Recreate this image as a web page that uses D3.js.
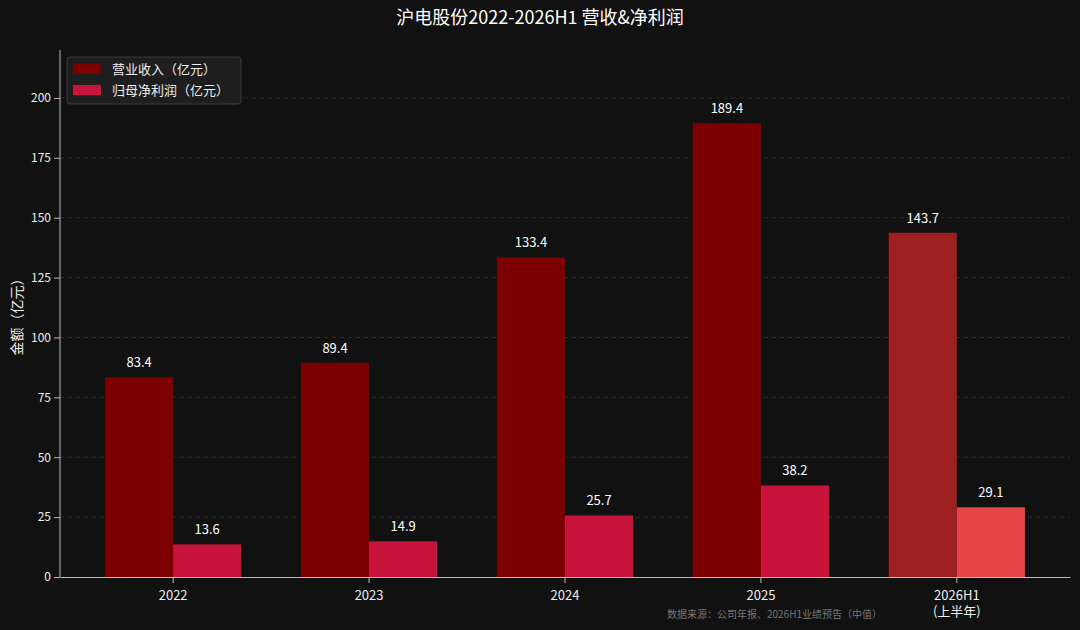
<!DOCTYPE html>
<html><head><meta charset="utf-8">
<script src="https://cdn.jsdelivr.net/npm/d3@7"></script>
<style>body{margin:0;background:#111;}svg{display:block;font-family:"Noto Sans CJK SC","Noto Sans",sans-serif;}</style>
</head><body>
<svg id="c" width="1080" height="630"></svg>
<script>
var categories = ["2022", "2023", "2024", "2025", "2026H1"];
var revenue = [83.4, 89.4, 133.4, 189.4, 143.7];
var profit = [13.6, 14.9, 25.7, 38.2, 29.1];
var yTicks = [0, 25, 50, 75, 100, 125, 150, 175, 200];

var svg = d3.select("#c");
var mLeft = 60, mRight = 1070, mTop = 50, mBottom = 577;
var x = d3.scaleBand().domain(categories).range([mLeft, mRight]).paddingInner(0.305).paddingOuter(0.23);
var y = d3.scaleLinear().domain([0, 220]).range([mBottom, mTop]);
var bw = x.bandwidth() / 2;

svg.append("text").attr("x", 540).attr("y", 24).attr("text-anchor", "middle")
  .attr("fill", "#fff").attr("font-size", 18).text("沪电股份2022-2026H1 营收&净利润");

// grid
svg.append("g").selectAll("line").data(yTicks.slice(1)).enter().append("line")
  .attr("x1", mLeft).attr("x2", mRight).attr("y1", function(d){return y(d);}).attr("y2", function(d){return y(d);})
  .attr("stroke", "#333").attr("stroke-dasharray", "4,4").attr("stroke-width", 0.8);

var yAxis = svg.append("g").attr("transform", "translate(" + mLeft + ",0)")
  .call(d3.axisLeft(y).tickValues(yTicks).tickSizeOuter(0));
var xAxis = svg.append("g").attr("transform", "translate(0," + mBottom + ")")
  .call(d3.axisBottom(x).tickSizeOuter(0));
[yAxis, xAxis].forEach(function(a){
  a.attr("font-family", null);
  a.selectAll("path,line").attr("stroke", "#bbb");
  a.selectAll("text").attr("fill", "#eee").attr("font-size", 12);
});
xAxis.selectAll("text").attr("font-size", 13).attr("dy", "1.1em");
yAxis.select(".domain").attr("d", "M0," + mBottom + "V" + mTop);
xAxis.selectAll(".tick").filter(function(d){return d === "2026H1";}).select("text")
  .text(null).each(function(){
    var t = d3.select(this);
    t.append("tspan").attr("x", 0).text("2026H1");
    t.append("tspan").attr("x", 0).attr("dy", "1.2em").text("(上半年)");
  });

svg.append("text").attr("transform", "translate(22," + ((mTop + mBottom) / 2) + ") rotate(-90)")
  .attr("text-anchor", "middle").attr("fill", "#eee").attr("font-size", 14).text("金额（亿元）");

function col(i, dark){
  if (categories[i] === "2026H1") return dark ? "#9e2020" : "#e64545";
  return dark ? "#7d0000" : "#c8143a";
}

[revenue, profit].forEach(function(vals, s){
  var g = svg.append("g");
  g.selectAll("rect").data(vals).enter().append("rect")
    .attr("x", function(d, i){return x(categories[i]) + s * bw;})
    .attr("width", bw)
    .attr("y", function(d){return y(d);})
    .attr("height", function(d){return mBottom - y(d);})
    .attr("fill", function(d, i){return col(i, s === 0);});
  g.selectAll("text").data(vals).enter().append("text")
    .attr("x", function(d, i){return x(categories[i]) + s * bw + bw / 2;})
    .attr("y", function(d){return y(d) - 10;})
    .attr("text-anchor", "middle").attr("fill", "#fff").attr("font-size", 13)
    .text(function(d){return d.toFixed(1);});
});

// legend
var lg = svg.append("g").attr("transform", "translate(67,57)");
lg.append("rect").attr("width", 174).attr("height", 47).attr("rx", 3)
  .attr("fill", "#1e1e1e").attr("stroke", "#3a3a3a");
["营业收入（亿元）", "归母净利润（亿元）"].forEach(function(t, i){
  lg.append("rect").attr("x", 6).attr("y", 7 + i * 21).attr("width", 28).attr("height", 10)
    .attr("fill", i === 0 ? "#7d0000" : "#c8143a");
  lg.append("text").attr("x", 45).attr("y", 17 + i * 21).attr("fill", "#eee")
    .attr("font-size", 13).text(t);
});

svg.append("text").attr("x", 882).attr("y", 618).attr("text-anchor", "end")
  .attr("fill", "#777").attr("font-size", 10).text("数据来源：公司年报、2026H1业绩预告（中值）");
</script>
</body></html>
